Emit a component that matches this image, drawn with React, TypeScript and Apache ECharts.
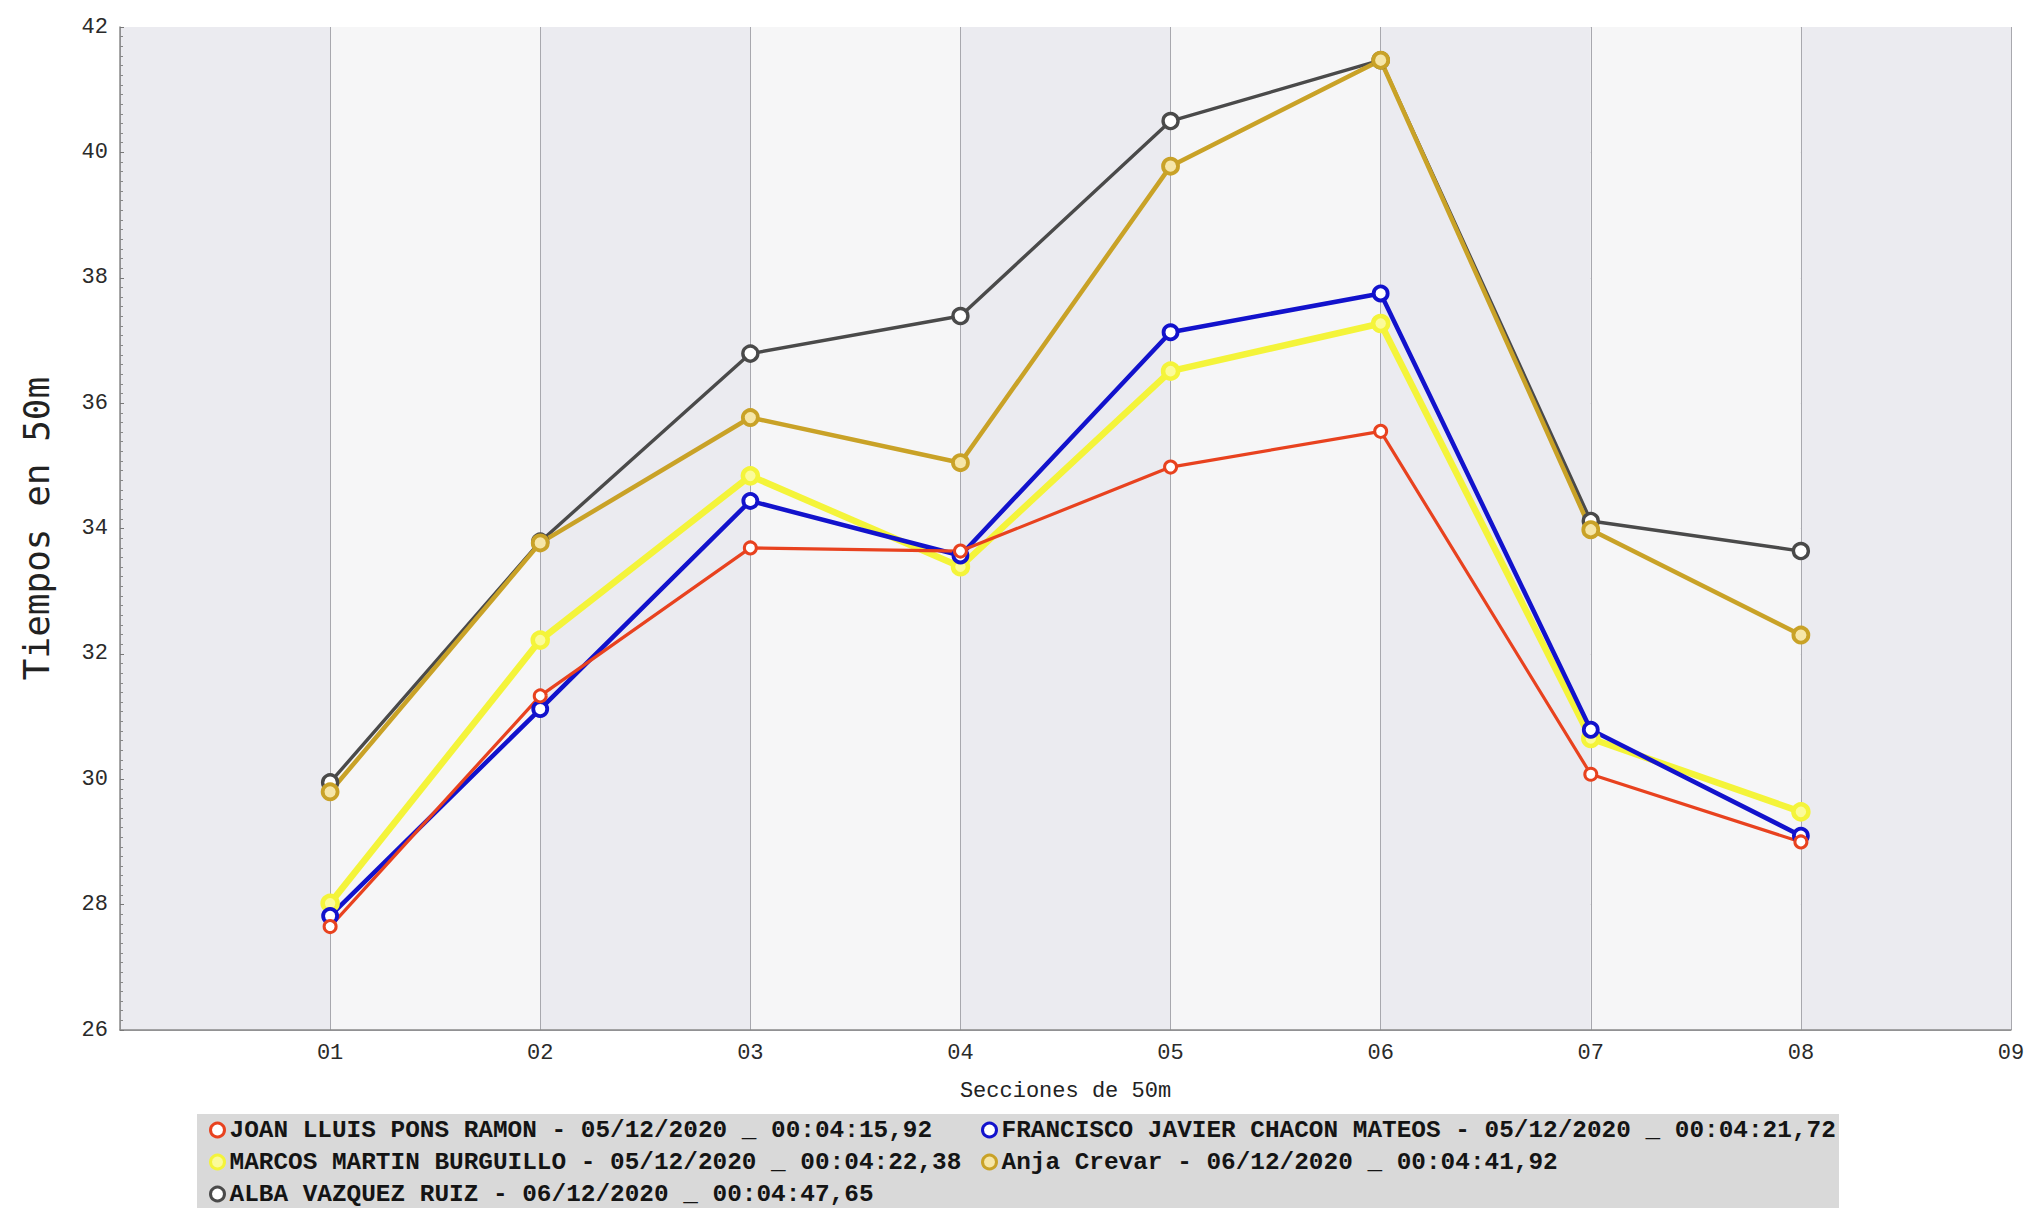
import React, { useEffect, useRef } from 'react';
import * as echarts from 'echarts';

// ---- data ----
const sections = [1, 2, 3, 4, 5, 6, 7, 8];
const xTickLabels = ['01', '02', '03', '04', '05', '06', '07', '08', '09'];

const swimmerNames = [
  'JOAN LLUIS PONS RAMON - 05/12/2020 _ 00:04:15,92',
  'FRANCISCO JAVIER CHACON MATEOS - 05/12/2020 _ 00:04:21,72',
  'MARCOS MARTIN BURGUILLO - 05/12/2020 _ 00:04:22,38',
  'Anja Crevar - 06/12/2020 _ 00:04:41,92',
  'ALBA VAZQUEZ RUIZ - 06/12/2020 _ 00:04:47,65',
];

const joanTimes = [27.65, 31.33, 33.69, 33.64, 34.98, 35.55, 30.08, 29.0];
const franciscoTimes = [27.82, 31.12, 34.44, 33.57, 37.13, 37.75, 30.79, 29.1];
const marcosTimes = [28.02, 32.22, 34.84, 33.39, 36.51, 37.27, 30.65, 29.48];
const anjaTimes = [29.8, 33.77, 35.77, 35.05, 39.78, 41.47, 33.98, 32.3];
const albaTimes = [29.95, 33.79, 36.79, 37.39, 40.5, 41.47, 34.12, 33.64];

const seriesTimes = [joanTimes, franciscoTimes, marcosTimes, anjaTimes, albaTimes];

// ---- styles ----
const lineColors = ['#e8421f', '#1212cc', '#f4f43a', '#c9a227', '#4a4a4a'];
const markerFills = ['#ffffff', '#ffffff', '#fbfb9a', '#f6e6a8', '#ffffff'];
const lineWidths = [3.2, 4.5, 6.5, 4.5, 3.4];
const markerSizes = [12, 14, 15, 15, 15];
const markerBorders = [3, 3.8, 4.5, 3.8, 3.4];

const MONO = '"Liberation Mono", "DejaVu Sans Mono", monospace';

export default function App() {
  const ref = useRef<HTMLDivElement>(null);

  useEffect(() => {
    if (!ref.current) return;
    const chart = echarts.init(ref.current, undefined, { renderer: 'svg' });

    const series = seriesTimes
      .map((vals, i) => ({
        name: swimmerNames[i],
        type: 'line',
        data: sections.map((s, k) => [s, vals[k]]),
        symbol: 'circle',
        symbolSize: markerSizes[i],
        showSymbol: true,
        lineStyle: { color: lineColors[i], width: lineWidths[i] },
        itemStyle: {
          color: markerFills[i],
          borderColor: lineColors[i],
          borderWidth: markerBorders[i],
        },
        emphasis: { disabled: true },
      }))
      .reverse();

    const legendPos = [
      { left: 209, top: 1118 },
      { left: 981, top: 1118 },
      { left: 209, top: 1150 },
      { left: 981, top: 1150 },
      { left: 209, top: 1182 },
    ];

    const legends = swimmerNames.map((n, i) => ({
      data: [
        {
          name: n,
          icon: 'circle',
          itemStyle: {
            color: markerFills[i],
            borderColor: lineColors[i],
            borderWidth: 3,
          },
        },
      ],
      left: legendPos[i].left,
      top: legendPos[i].top,
      padding: 0,
      itemWidth: 14,
      itemHeight: 14,
      selectedMode: false,
      textStyle: {
        fontFamily: MONO,
        fontSize: 24.4,
        fontWeight: 'bold',
        color: '#141414',
      },
      z: 5,
    }));

    chart.setOption({
      animation: false,
      backgroundColor: '#ffffff',
      graphic: [
        {
          type: 'rect',
          left: 197,
          top: 1114,
          shape: { width: 1642, height: 94 },
          style: { fill: '#d9d9d9' },
          silent: true,
          z: 0,
        },
      ],
      legend: legends,
      grid: { left: 120, top: 27, right: 18, bottom: 178, containLabel: false },
      xAxis: {
        type: 'value',
        min: 0,
        max: 9,
        interval: 1,
        name: 'Secciones de 50m',
        nameLocation: 'middle',
        nameGap: 50,
        nameTextStyle: { fontFamily: MONO, fontSize: 22, color: '#222' },
        axisLine: { show: true, lineStyle: { color: '#8a8a8a', width: 1.5 } },
        axisTick: { show: false },
        axisLabel: {
          margin: 12,
          fontFamily: MONO,
          fontSize: 22,
          color: '#2a2a2a',
          showMinLabel: true,
          formatter: (v: number) => (v >= 1 ? xTickLabels[Math.round(v) - 1] : ''),
        },
        splitLine: { show: true, lineStyle: { color: '#a8a8ae', width: 1 } },
        splitArea: { show: true, areaStyle: { color: ['#ebebf0', '#f6f6f7'] } },
      },
      yAxis: {
        type: 'value',
        min: 26,
        max: 42,
        interval: 2,
        name: 'Tiempos en 50m',
        nameLocation: 'middle',
        nameGap: 66,
        nameTextStyle: { fontFamily: '"DejaVu Sans Mono", monospace', fontSize: 36, color: '#222' },
        axisLine: { show: true, lineStyle: { color: '#8a8a8a', width: 1.5 } },
        axisTick: { show: true, inside: true, length: 4, lineStyle: { color: '#777' } },
        minorTick: { show: true, splitNumber: 13, length: 3, lineStyle: { color: '#888' } },
        minorSplitLine: { show: true, lineStyle: { color: 'rgba(255,255,255,0.7)', width: 4 } },
        axisLabel: { margin: 12, fontFamily: MONO, fontSize: 22, color: '#2a2a2a' },
        splitLine: { show: true, lineStyle: { color: '#a8a8ae', width: 1 } },
      },
      series,
    });

    return () => chart.dispose();
  }, []);

  return (
    <div
      ref={ref}
      style={{ position: 'fixed', left: 0, top: 0, width: 2029, height: 1208 }}
    />
  );
}
